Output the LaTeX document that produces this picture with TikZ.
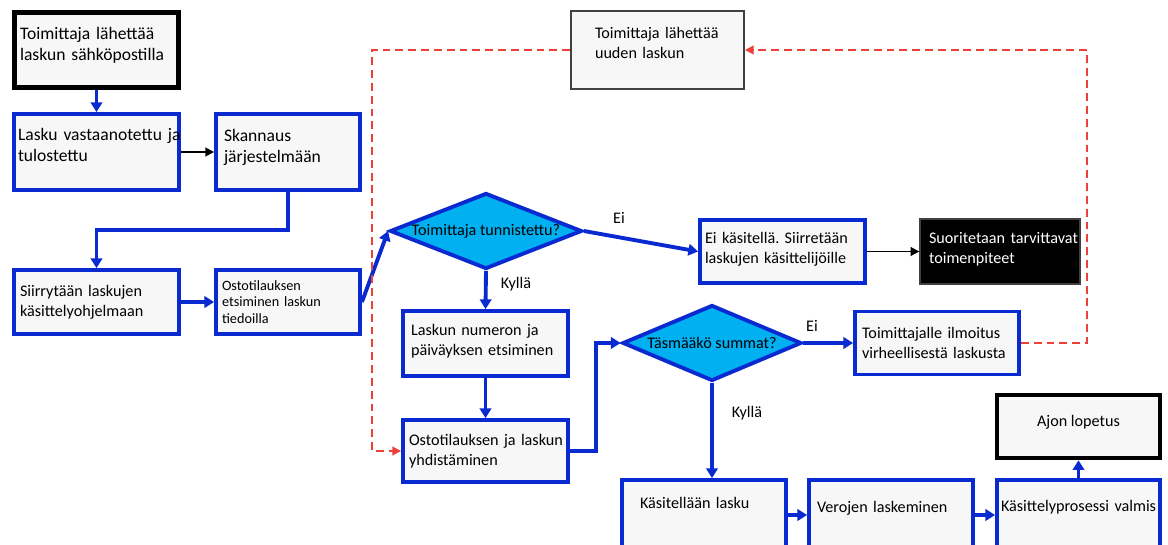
\documentclass[tikz,border=0pt]{standalone}
\usepackage{fontspec}
\setmainfont{Carlito}
\usetikzlibrary{shapes.geometric,arrows.meta}
\definecolor{flowblue}{RGB}{8,42,208}
\definecolor{askcyan}{RGB}{0,176,240}
\definecolor{boxgray}{RGB}{247,247,247}
\definecolor{loopred}{RGB}{236,64,56}
\definecolor{framegray}{RGB}{64,64,64}
\hyphenpenalty=10000
\exhyphenpenalty=10000
\frenchspacing
\newcommand{\txtup}[1]{\rule[-#1]{0pt}{#1}}
\tikzset{
  stepbox/.style={draw=flowblue, line width=2.2pt, fill=boxgray, align=left, inner xsep=0pt, inner ysep=1pt, font=\fontsize{9.2}{11.4}\selectfont},
  bigtext/.style={font=\fontsize{10}{12}\selectfont},
  endbox/.style={stepbox, draw=black, line width=2.6pt},
  askbox/.style={diamond, draw=flowblue, line width=2.2pt, fill=askcyan, inner sep=0pt, font=\fontsize{9.2}{11.4}\selectfont},
  flowarrow/.style={flowblue, line width=2.2pt, -{Triangle[length=5.5pt,width=6.5pt]}},
  thinarrow/.style={black, line width=1pt, -{Triangle[length=5pt,width=5pt]}},
  backarrow/.style={loopred, line width=1pt, dash pattern=on 4.5pt off 2.8pt, -{Triangle[length=5pt,width=5pt]}},
  answer/.style={font=\fontsize{9.2}{11.4}\selectfont}
}
\begin{document}
\begin{tikzpicture}[x=0.02cm, y=-0.02cm]
  \path[use as bounding box, fill=white] (0,0) rectangle (1168,544);
  \node[endbox, bigtext, minimum width=3.28cm, minimum height=1.5cm, text width=3.06cm] (start) at (96.5,50) {Toimittaja lähettää\\laskun sähköpostilla\txtup{7pt}};
  \node[stepbox, bigtext, minimum width=3.3cm, minimum height=1.52cm, text width=3.14cm] (rec) at (96.5,152) {Lasku~vastaanotettu~ja\\tulostettu\txtup{8.5pt}};
  \node[stepbox, bigtext, minimum width=2.88cm, minimum height=1.52cm, text width=2.56cm] (scan) at (288,152) {Skannaus\\järjestelmään\txtup{7pt}};
  \node[stepbox, minimum width=3.3cm, minimum height=1.28cm, text width=3.06cm] (move) at (96.5,302) {Siirrytään laskujen\\käsittelyohjelmaan};
  \node[stepbox, minimum width=2.88cm, minimum height=1.28cm, text width=2.64cm, font=\fontsize{8.1}{9.6}\selectfont] (search) at (288,302) {Ostotilauksen\\etsiminen laskun\\tiedoilla};
  \node[stepbox, draw=framegray, line width=1.1pt, minimum width=3.46cm, minimum height=1.56cm, text width=2.5cm] (newinv) at (657.5,50) {Toimittaja~lähettää\\uuden laskun\txtup{8pt}};
  \node[askbox, minimum width=3.84cm, minimum height=1.52cm, aspect=2.5] (dia1) at (486,231) {Toimittaja tunnistettu?};
  \node[stepbox, minimum width=3.3cm, minimum height=1.26cm, text width=3.1cm] (reject) at (782.5,251.5) {Ei käsitellä. Siirretään\\laskujen käsittelijöille\txtup{4.5pt}};
  \node[stepbox, draw=framegray, line width=0.8pt, fill=black, text=white, minimum width=3.2cm, minimum height=1.3cm, text width=2.84cm] (act) at (1000,251.5) {Suoritetaan~tarvittavat\\toimenpiteet\txtup{4.5pt}};
  \node[stepbox, minimum width=3.3cm, minimum height=1.3cm, text width=2.98cm] (num) at (485.5,343.5) {Laskun numeron ja\\päiväyksen etsiminen\txtup{4.5pt}};
  \node[stepbox, minimum width=3.3cm, minimum height=1.24cm, text width=3.06cm] (join) at (485.5,451) {Ostotilauksen~ja~laskun\\yhdistäminen};
  \node[askbox, minimum width=3.58cm, minimum height=1.52cm, aspect=2.36] (dia2) at (712,343) {Täsmääkö summat?};
  \node[stepbox, minimum width=3.28cm, minimum height=1.26cm, text width=3.0cm] (notify) at (937,343) {Toimittajalle ilmoitus\\virheellisestä laskusta};
  \node[stepbox, minimum width=3.28cm, minimum height=1.4cm, text width=2.56cm] (proc) at (704,515) {Käsitellään lasku\txtup{14pt}};
  \node[stepbox, minimum width=3.28cm, minimum height=1.4cm, text width=2.96cm] (tax) at (891,515) {Verojen laskeminen\txtup{9.5pt}};
  \node[stepbox, minimum width=3.26cm, minimum height=1.4cm, text width=3.1cm] (done) at (1078.5,515) {Käsittelyprosessi~valmis\txtup{10.5pt}};
  \node[endbox, align=center, inner xsep=2pt, minimum width=3.26cm, minimum height=1.26cm] (stop) at (1078.5,426.5) {Ajon lopetus\txtup{6pt}};
  \node[answer] (noid) at (619,218) {Ei};
  \node[answer] (yesid) at (516,284) {Kyllä};
  \node[answer] (nosum) at (812,326) {Ei};
  \node[answer] (yessum) at (747,413) {Kyllä};
  \draw[flowarrow] (start.south) -- (rec.north);
  \draw[thinarrow] (rec) -- (scan);
  \draw[flowarrow] (scan.south) -- ++(0,38) -| (move.north);
  \draw[flowarrow] (move) -- (search);
  \draw[flowarrow] (search.east) -- (dia1.west);
  \draw[flowarrow] (dia1.east) -- (reject.west);
  \draw[thinarrow] (reject) -- (act);
  \draw[flowarrow] (dia1.south) -- (num.north);
  \draw[flowarrow] (num) -- (join);
  \draw[flowarrow] (join.east) -- ++(26,0) |- (dia2.west);
  \draw[flowarrow] (dia2) -- (notify);
  \draw[flowarrow] (dia2.south) -- (dia2.south |- proc.north);
  \draw[flowarrow] (proc) -- (tax);
  \draw[flowarrow] (tax) -- (done);
  \draw[flowarrow] (done) -- (stop);
  \draw[backarrow] (notify.east) -- ++(66,0) |- (newinv.east);
  \draw[backarrow] (newinv.west) -- ++(-198,0) |- (join.west);
\end{tikzpicture}
\end{document}
